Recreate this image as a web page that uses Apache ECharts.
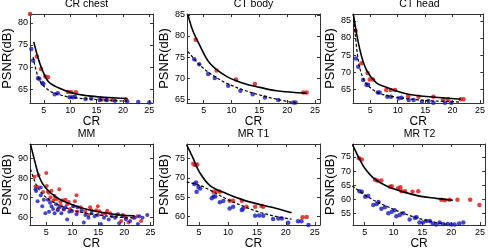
<!DOCTYPE html>
<html>
<head>
<meta charset="utf-8">
<script src="https://cdn.jsdelivr.net/npm/echarts@6/dist/echarts.min.js"></script>
<style>
html, body { margin: 0; padding: 0; background: #fff; }
#chart { width: 488px; height: 251px; }
</style>
</head>
<body>
<div id="chart"></div>
<script>
// tick labels and panel names
const panelTitles = ['CR chest', 'CT body', 'CT head', 'MM', 'MR T1', 'MR T2'];
const xTicks = [5, 10, 15, 20, 25];
const yTicks = [
	[65, 70, 75, 80],
	[65, 70, 75, 80, 85],
	[65, 70, 75, 80, 85],
	[60, 70, 80, 90],
	[60, 65, 70, 75],
	[55, 60, 65, 70, 75],
];
const xRanges = [[2.37, 25.7], [2.0, 25.9], [1.84, 25.6], [1.85, 25.5], [2.93, 25.9], [2.98, 25.9]];
const yRanges = [[61.9, 82], [64.1, 85.2], [61, 87], [56, 97.5], [57.8, 78.7], [50.8, 79.6]];

// CR chest
const chestRed = [[2.4, 82], [3.7, 72.4], [4.5, 69.6], [5.3, 67.9], [5.8, 67.7], [9.6, 64.4], [10.2, 64.3], [11.1, 64.3], [16.0, 62.7], [17.0, 62.6], [18.0, 62.6], [20.6, 62.7]];
const chestBlue = [[2.63, 74.1], [2.98, 71.5], [3.92, 67.5], [4.15, 67.4], [4.74, 66.4], [4.92, 66.2], [7.08, 63.9], [7.66, 64.1], [9.9, 63.2], [10.5, 63.2], [10.9, 63.3], [12.9, 62.8], [14.0, 62.9], [15.6, 62.6], [16.8, 62.6], [18.5, 62.4], [20.8, 62.3], [22.9, 62.1], [25.0, 62.0]];
const chestFitRed = [[3.1, 75.7], [3.86, 72.3], [4.74, 69.3], [5.9, 66.7], [7.65, 65.4], [10.6, 64.1], [13.5, 63.5], [16.4, 63.2], [20.8, 62.9]];
const chestFitBlue = [[2.98, 72.3], [4.15, 67.1], [5.9, 64.8], [7.66, 63.9], [10.6, 63.1], [16.4, 62.6], [20.8, 62.3]];

// CT body
const bodyRed = [[3.56, 79.1], [7.33, 71.8], [10.8, 69.7], [14.2, 68.6], [22.9, 66.6], [23.5, 66.6]];
const bodyBlue = [[3.3, 74.5], [4.2, 73.3], [5.8, 71.0], [7.0, 70.0], [9.4, 68.2], [11.6, 67.0], [13.8, 66.2], [16.0, 65.4], [18.4, 64.8], [21.1, 64.2], [21.5, 64.2]];
const bodyFitRed = [[2.18, 85], [3.0, 81.4], [4.2, 78.0], [6.1, 73.5], [9.1, 70.4], [12.1, 68.8], [15.1, 67.8], [18.1, 67.0], [23.5, 66.4]];
const bodyFitBlue = [[2.18, 76.3], [4.3, 73.1], [6.7, 70.6], [9.1, 68.8], [12.1, 67.2], [15.1, 66.0], [18.1, 65.0], [21.8, 64.0]];

// CT head
const headRed = [[2.32, 82.1], [3.4, 72.6], [4.5, 69.8], [4.9, 67.9], [5.5, 67.9], [7.9, 64.8], [8.75, 64.8], [9.5, 64.8], [11.9, 63.0], [13.8, 62.8], [16.5, 62.8], [18.3, 62.1], [19.2, 62.1], [21.5, 62.1], [22.0, 62.1]];
const headBlue = [[2.38, 74.0], [2.8, 71.6], [3.7, 67.7], [4.3, 66.3], [4.6, 66.3], [6.35, 64.1], [6.7, 64.1], [8.1, 62.8], [8.75, 62.8], [10.2, 62.4], [10.7, 62.5], [12.0, 61.9], [12.9, 61.9], [14.4, 61.4], [15.6, 61.6], [16.5, 61.1], [18.6, 61.1], [19.75, 61.1]];
const headFitRed = [[1.9, 87], [3.1, 76.5], [4.3, 70.6], [6.1, 66.9], [7.9, 65.6], [10.8, 64.0], [13.8, 63.1], [16.8, 62.7], [21.5, 62.1]];
const headFitBlue = [[1.9, 87], [2.8, 73.5], [3.7, 68.2], [4.9, 65.6], [6.7, 63.8], [9.6, 62.7], [13.8, 61.9], [16.8, 61.6], [21.5, 61.3]];

// MM
const mmRed = [[2.74, 80.7], [2.92, 75.7], [3.3, 75.6], [3.51, 81.5], [4.4, 72.9], [5.0, 82.7], [5.1, 76.0], [5.3, 73.2], [5.5, 72.6], [5.8, 70.2], [6.0, 73.6], [6.3, 68.5], [6.6, 70.9], [6.7, 69.3], [7.1, 69.3], [7.2, 64.3], [7.5, 74.4], [7.7, 67.8], [7.8, 65.9], [8.1, 68.7], [8.4, 64.0], [8.7, 69.0], [9.0, 66.7], [9.3, 67.8], [9.6, 64.3], [10.2, 65.9], [10.5, 68.2], [10.8, 71.3], [11.0, 62.8], [11.6, 65.1], [12.5, 62.8], [13.1, 61.2], [13.4, 65.1], [13.7, 63.6], [14.6, 63.6], [14.9, 65.6], [15.2, 63.1], [15.8, 61.5], [16.4, 62.0], [16.7, 63.3], [17.3, 62.0], [18.5, 61.2], [19.4, 58.1], [19.7, 61.2], [20.3, 59.7], [20.8, 57.3], [21.7, 59.7], [22.5, 60.5], [23.2, 58.1]];
const mmBlue = [[2.92, 74.4], [3.04, 73.4], [3.33, 68.2], [3.93, 75.2], [3.93, 71.3], [4.22, 65.6], [4.52, 69.0], [4.82, 62.0], [5.29, 69.0], [5.53, 62.8], [5.71, 67.4], [6.0, 65.6], [6.3, 64.3], [6.6, 62.0], [6.9, 66.7], [7.2, 63.6], [7.5, 65.1], [7.9, 62.0], [8.3, 64.3], [8.7, 65.1], [9.0, 58.9], [9.4, 62.8], [9.9, 63.1], [10.2, 65.6], [10.8, 61.5], [11.0, 65.1], [11.8, 63.6], [12.2, 57.3], [12.5, 61.2], [13.1, 59.7], [13.7, 62.0], [14.3, 60.5], [14.9, 61.2], [15.5, 56.6], [16.1, 59.7], [17.0, 58.9], [17.6, 60.5], [18.2, 59.7], [18.8, 61.5], [19.0, 56.9], [19.7, 60.5], [20.3, 58.9], [21.1, 58.1], [22.0, 59.7], [22.6, 56.6], [22.9, 60.5], [23.5, 59.7], [24.4, 61.2]];
const mmFitRed = [[1.97, 97.3], [2.74, 89.2], [3.63, 80.7], [4.8, 75.2], [7.2, 69.8], [10.2, 66.2], [13.1, 63.9], [16.1, 62.3], [19.1, 61.2], [22.0, 60.8]];
const mmFitBlue = [[1.97, 84.6], [3.04, 76.8], [4.22, 72.1], [6.0, 68.2], [9.0, 64.6], [11.9, 62.5], [16.1, 60.8], [19.1, 60.0], [22.0, 59.7]];

// MR T1
const t1Red = [[4.02, 73.6], [4.3, 73.3], [4.7, 73.4], [7.5, 66.4], [8.0, 66.6], [8.6, 66.4], [10.3, 64.1], [10.9, 64.1], [12.4, 64.1], [13.2, 62.5], [14.7, 62.5], [15.8, 62.7], [16.1, 62.5], [22.9, 59.8], [23.6, 59.9]];
const t1Blue = [[4.2, 68.4], [4.5, 68.8], [4.9, 67.6], [5.2, 67.2], [4.6, 66.4], [7.2, 64.7], [7.5, 65.2], [7.8, 65.2], [8.6, 63.7], [9.2, 64.0], [10.3, 62.1], [10.9, 62.5], [12.4, 61.7], [12.6, 62.0], [14.7, 60.2], [15.4, 60.3], [16.1, 60.2], [17.8, 59.4], [18.7, 59.5], [19.3, 59.5], [20.4, 58.4], [22.1, 58.8], [22.7, 58.8], [23.9, 57.8]];
const t1FitRed = [[2.87, 78.5], [4.0, 75.0], [5.06, 71.5], [6.9, 68.0], [9.8, 65.9], [12.6, 64.3], [15.5, 63.1], [18.4, 62.1], [21.0, 61.0]];
const t1FitBlue = [[2.87, 68.9], [5.2, 68.0], [6.9, 66.8], [9.8, 64.5], [12.6, 62.7], [15.5, 61.1], [18.4, 60.0], [21.0, 59.3]];

// MR T2
const t2Red = [[4.02, 74.5], [4.5, 74.1], [6.8, 66.9], [7.2, 66.6], [7.9, 66.6], [9.4, 64.4], [9.7, 64.6], [10.8, 63.9], [11.2, 64.2], [11.4, 62.8], [12.0, 62.8], [13.3, 62.6], [14.3, 62.8], [18.3, 59.8], [18.9, 59.6], [19.7, 59.8], [21.1, 59.8], [23.3, 59.8], [24.9, 57.9]];
const t2Blue = [[4.1, 62.8], [4.5, 62.6], [5.1, 60.9], [5.6, 61.1], [6.5, 57.9], [7.1, 58.3], [7.4, 59.0], [7.9, 56.6], [8.5, 57.1], [9.1, 55.0], [9.7, 55.5], [10.2, 56.1], [10.5, 53.9], [11.1, 54.4], [11.7, 55.0], [12.8, 52.8], [13.7, 53.4], [14.0, 53.6], [14.5, 51.7], [15.1, 51.7], [15.7, 52.3], [16.3, 52.3], [16.8, 51.4], [17.4, 51.0], [18.0, 51.7], [18.6, 51.2], [19.4, 51.2], [20.0, 51.0], [20.6, 51.0], [21.4, 51.4], [22.1, 51.7]];
const t2FitRed = [[2.87, 79.5], [4.2, 73.9], [5.06, 70.9], [6.5, 67.6], [8.8, 64.7], [11.7, 62.6], [14.5, 61.1], [17.4, 60.3], [20.3, 59.6]];
const t2FitBlue = [[2.87, 64.7], [5.9, 60.4], [8.8, 57.5], [11.7, 55.0], [14.5, 53.1], [17.4, 51.7], [19.7, 51.0]];

const redSets = [chestRed, bodyRed, headRed, mmRed, t1Red, t2Red];
const blueSets = [chestBlue, bodyBlue, headBlue, mmBlue, t1Blue, t2Blue];
const redFits = [chestFitRed, bodyFitRed, headFitRed, mmFitRed, t1FitRed, t2FitRed];
const blueFits = [chestFitBlue, bodyFitBlue, headFitBlue, mmFitBlue, t1FitBlue, t2FitBlue];

const chart = echarts.init(document.getElementById('chart'));

const font = 'Liberation Sans, Arial, sans-serif';
const boxColor = '#333';
const colLeft = [20, 187, 353];
const rowTop = [14, 144];
const boxW = 133;
const boxH = 89;

const grid = [], xAxis = [], yAxis = [], title = [], series = [];

for (let i = 0; i < 6; i++) {
	const left = colLeft[i % 3];
	const top = rowTop[Math.floor(i / 3)];
	grid.push({left: left, top: top, width: boxW, height: boxH, show: false});

	title.push({
		text: panelTitles[i],
		left: left + boxW / 2,
		top: top - 15,
		textAlign: 'center',
		padding: 0,
		textStyle: {fontFamily: font, fontSize: 10.5, fontWeight: 'normal', color: '#000'},
	});

	const tickStyle = {inside: true, length: 3, lineStyle: {color: boxColor, width: 1}};
	// bottom + top x axes
	xAxis.push({
		gridIndex: i, type: 'value', position: 'bottom',
		min: xRanges[i][0], max: xRanges[i][1],
		axisLine: {onZero: false, lineStyle: {color: boxColor, width: 1}},
		axisTick: {...tickStyle, customValues: xTicks},
		axisLabel: {customValues: xTicks, fontFamily: font, fontSize: 9, color: '#000', margin: 3},
		splitLine: {show: false},
		name: 'CR', nameLocation: 'middle', nameGap: 10,
		nameTextStyle: {fontFamily: font, fontSize: 12, color: '#000', verticalAlign: 'top'},
	});
	xAxis.push({
		gridIndex: i, type: 'value', position: 'top',
		min: xRanges[i][0], max: xRanges[i][1],
		axisLine: {onZero: false, lineStyle: {color: boxColor, width: 1}},
		axisTick: {...tickStyle, customValues: xTicks},
		axisLabel: {show: false},
		splitLine: {show: false},
	});
	// left + right y axes
	yAxis.push({
		gridIndex: i, type: 'value', position: 'left',
		min: yRanges[i][0], max: yRanges[i][1],
		axisLine: {show: true, onZero: false, lineStyle: {color: boxColor, width: 1}},
		axisTick: {...tickStyle, customValues: yTicks[i]},
		axisLabel: {customValues: yTicks[i], fontFamily: font, fontSize: 9, color: '#000', margin: 2},
		splitLine: {show: false},
		name: 'PSNR(dB)', nameLocation: 'middle', nameGap: 9,
		nameTextStyle: {fontFamily: font, fontSize: 13, color: '#000'},
	});
	yAxis.push({
		gridIndex: i, type: 'value', position: 'right',
		min: yRanges[i][0], max: yRanges[i][1],
		axisLine: {show: true, onZero: false, lineStyle: {color: boxColor, width: 1}},
		axisTick: {...tickStyle, customValues: yTicks[i]},
		axisLabel: {show: false},
		splitLine: {show: false},
	});

	const dot = i === 3 ? 4 : 4.5;
	series.push({
		type: 'scatter', xAxisIndex: 2 * i, yAxisIndex: 2 * i,
		data: redSets[i], symbol: 'circle', symbolSize: dot,
		itemStyle: {color: '#e01010'}, silent: true,
	});
	series.push({
		type: 'scatter', xAxisIndex: 2 * i, yAxisIndex: 2 * i,
		data: blueSets[i], symbol: 'circle', symbolSize: dot,
		itemStyle: {color: '#1818c0'}, silent: true,
	});
	series.push({
		type: 'line', xAxisIndex: 2 * i, yAxisIndex: 2 * i,
		data: redFits[i], smooth: 0.35, showSymbol: false,
		lineStyle: {color: '#000', width: 1.6}, silent: true,
	});
	series.push({
		type: 'line', xAxisIndex: 2 * i, yAxisIndex: 2 * i,
		data: blueFits[i], smooth: 0.35, showSymbol: false,
		lineStyle: {color: '#000', width: 1.2, type: [3, 2]}, silent: true,
	});
}

chart.setOption({
	animation: false,
	backgroundColor: '#fff',
	title: title,
	grid: grid,
	xAxis: xAxis,
	yAxis: yAxis,
	series: series,
});
</script>
</body>
</html>
